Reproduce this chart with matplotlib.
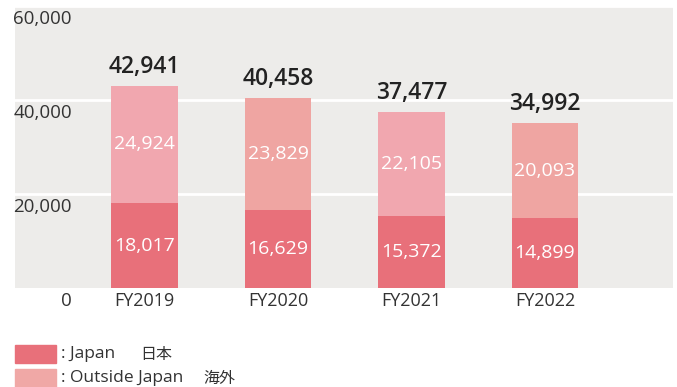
import matplotlib
matplotlib.use("Agg")
import matplotlib.pyplot as plt
from matplotlib.patches import Rectangle

# 売上データ（単位：百万円）
years = ["FY2019", "FY2020", "FY2021", "FY2022"]
japan = [18017, 16629, 15372, 14899]
outside = [24924, 23829, 22105, 20093]
totals = [j + o for j, o in zip(japan, outside)]
yticks = [0, 20000, 40000, 60000]

c_japan = "#e8707a"
c_outside = ["#f1a7af", "#efa5a2", "#f1a7af", "#efa5a2"]
c_bg = "#edecea"

plt.rcParams["font.family"] = ["Open Sans", "Noto Sans CJK JP", "DejaVu Sans"]

fig = plt.figure(figsize=(6.77, 3.87), dpi=100)
ax = fig.add_axes([15 / 677, 1 - 288 / 387, 658 / 677, 282.5 / 387])
ax.set_facecolor(c_bg)

x = list(range(len(years)))
ax.bar(x, japan, width=0.5, color=c_japan, zorder=3)
ax.bar(x, outside, width=0.5, bottom=japan, color=c_outside, zorder=3)

for i in x:
    ax.text(i, japan[i] / 2, f"{japan[i]:,}", ha="center", va="center",
            color="white", fontsize=14, zorder=4)
    ax.text(i, japan[i] + outside[i] / 2, f"{outside[i]:,}", ha="center",
            va="center", color="white", fontsize=14, zorder=4)
    ax.annotate(f"{totals[i]:,}", (i, totals[i]), xytext=(0, 5),
                textcoords="offset points", ha="center", va="bottom",
                fontsize=16.5, fontweight="semibold", color="#222222")

ax.set_xlim(-0.971, 3.96)
ax.set_ylim(0, 60000)

# 目盛線（白）
for v in yticks[1:]:
    ax.axhline(v, color="white", lw=2, zorder=2)

ax.set_yticks([])
ax.set_xticks(x)
ax.set_xticklabels(years, fontsize=13, color="#333333")
ax.tick_params(axis="x", length=0, pad=3)
for s in ax.spines.values():
    s.set_visible(False)

# Y軸ラベルは目盛線の下に配置
for v in yticks:
    ax.annotate(f"{v:,}", (72 / 677, v), xycoords=("figure fraction", "data"),
                xytext=(0, -3), textcoords="offset points",
                ha="right", va="top", fontsize=13.5, color="#333333")

# 凡例
fig.patches.append(Rectangle((15 / 677, 1 - 363 / 387), 41 / 677, 18 / 387,
                             transform=fig.transFigure, color=c_japan))
fig.patches.append(Rectangle((15 / 677, 1 - 387 / 387), 41 / 677, 18 / 387,
                             transform=fig.transFigure, color="#f0a8a6"))
fig.text(61 / 677, 1 - 354 / 387, ": Japan", fontsize=12.5, va="center",
         color="#333333")
fig.text(140 / 677, 1 - 354 / 387, "日本", fontsize=11.5, va="center",
         color="#333333", family=["Noto Sans CJK JP"])
fig.text(61 / 677, 1 - 378 / 387, ": Outside Japan", fontsize=12.5,
         va="center", color="#333333")
fig.text(203 / 677, 1 - 378 / 387, "海外", fontsize=11.5, va="center",
         color="#333333", family=["Noto Sans CJK JP"])

fig.savefig("out.png", dpi=100)
